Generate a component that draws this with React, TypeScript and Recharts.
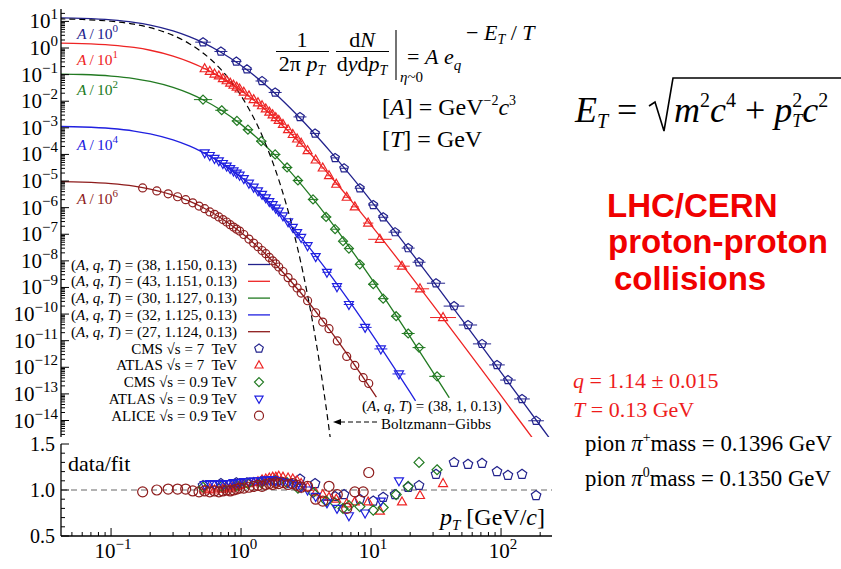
import React from "react";
import { ComposedChart, Line, Scatter, XAxis, YAxis, ReferenceLine, ErrorBar } from "recharts";

const SERIF = "'Liberation Serif', 'Times New Roman', Times, serif";
const SANS = "'Liberation Sans', Arial, Helvetica, sans-serif";

const NAVY = "#22228c";
const RED = "#ee2424";
const GREEN = "#227a22";
const BLUE = "#2020e0";
const BROWN = "#8e1c1c";

// axis ranges (log10 of pT and of the yield)
const X_DOMAIN: [number, number] = [-1.385, 2.392];
const Y_DOMAIN: [number, number] = [-14.62, 1.466];
const R_DOMAIN: [number, number] = [0.5, 1.5];
const DECADE_STEPS = [1, 2, 3, 4, 5, 6, 7, 8, 9];
const RATIO_TICKS = [0.5, 0.6, 0.7, 0.8, 0.9, 1.0, 1.1, 1.2, 1.3, 1.4, 1.5];

// ---- Tsallis fits: pT [GeV/c] and log10(yield)
const CMS7_FIT_PT = [0.04, 0.06, 0.1, 0.15, 0.2, 0.3, 0.4, 0.5, 0.7, 1, 1.5, 2, 3, 4, 5, 7, 10, 15, 20, 30, 50, 70, 100, 150, 200, 250];
const CMS7_FIT_LOGY = [1.131, 1.112, 1.056, 0.965, 0.862, 0.643, 0.427, 0.221, -0.16, -0.657, -1.337, -1.889, -2.753, -3.418, -3.958, -4.807, -5.742, -6.838, -7.631, -8.765, -10.211, -11.171, -12.193, -13.359, -14.188, -14.832];
const ATLAS7_FIT_PT = [0.04, 0.06, 0.1, 0.15, 0.2, 0.3, 0.4, 0.5, 0.7, 1, 1.5, 2, 3, 4, 5, 7, 10, 15, 20, 30, 50, 70, 100, 150, 200];
const ATLAS7_FIT_LOGY = [0.185, 0.166, 0.11, 0.02, -0.084, -0.302, -0.518, -0.724, -1.103, -1.598, -2.276, -2.825, -3.685, -4.346, -4.884, -5.728, -6.657, -7.746, -8.535, -9.661, -11.098, -12.051, -13.067, -14.225, -15.048];
const CMS09_FIT_PT = [0.04, 0.06, 0.1, 0.15, 0.2, 0.3, 0.4, 0.5, 0.7, 1, 1.5, 2, 3, 4, 5, 7, 10, 15, 20, 30, 40];
const CMS09_FIT_LOGY = [-0.977, -0.996, -1.054, -1.147, -1.254, -1.481, -1.707, -1.926, -2.332, -2.87, -3.617, -4.232, -5.207, -5.965, -6.585, -7.565, -8.651, -9.929, -10.858, -12.189, -13.144];
const ATLAS09_FIT_PT = [0.04, 0.06, 0.1, 0.15, 0.2, 0.3, 0.4, 0.5, 0.7, 1, 1.5, 2, 3, 4, 5, 7, 10, 15, 20, 22];
const ATLAS09_FIT_LOGY = [-2.949, -2.969, -3.026, -3.12, -3.227, -3.455, -3.682, -3.902, -4.311, -4.852, -5.606, -6.228, -7.212, -7.98, -8.608, -9.601, -10.703, -12.0, -12.943, -13.259];
const ALICE_FIT_PT = [0.04, 0.06, 0.1, 0.15, 0.2, 0.3, 0.4, 0.5, 0.7, 1, 1.5, 2, 3, 4, 5, 7, 10, 11];
const ALICE_FIT_LOGY = [-5.023, -5.043, -5.1, -5.194, -5.301, -5.529, -5.757, -5.977, -6.388, -6.931, -7.688, -8.313, -9.303, -10.075, -10.708, -11.708, -12.817, -13.122];
const BG_PT = [0.04, 0.06, 0.1, 0.15, 0.2, 0.3, 0.4, 0.5, 0.7, 1, 1.5, 2, 2.5, 3, 3.5, 4, 4.5, 5];
const BG_LOGY = [1.094, 1.072, 1.006, 0.895, 0.765, 0.474, 0.164, -0.154, -0.805, -1.793, -3.453, -5.118, -6.785, -8.452, -10.121, -11.79, -13.46, -15.13];

// ---- data points: pT, log10(yield), data/fit, half bin width (decades)
const CMS7_PT = [0.51, 0.7, 0.92, 1.11, 1.45, 1.83, 2.84, 3.71, 5.29, 6.2, 8.2, 10.4, 12.4, 15.3, 19.3, 23.4, 31.6, 43.5, 55.7, 71.4, 93.1, 113, 145, 186];
const CMS7_LOGY = [0.22, -0.13, -0.51, -0.8, -1.24, -1.67, -2.59, -3.21, -4.13, -4.52, -5.27, -5.9, -6.36, -6.92, -7.52, -8.05, -8.84, -9.7, -10.41, -11.12, -11.91, -12.48, -13.19, -14.01];
const CMS7_RATIO = [1.05, 1.07, 1.08, 1.08, 1.1, 1.11, 1.12, 1.07, 0.93, 0.95, 0.9, 0.88, 0.92, 0.95, 1.03, 1.05, 1.17, 1.3, 1.28, 1.29, 1.2, 1.16, 1.17, 0.94];
const CMS7_EX = [0.06, 0.05, 0.04, 0.04, 0.05, 0.05, 0.05, 0.04, 0.03, 0.03, 0.04, 0.04, 0.04, 0.05, 0.05, 0.05, 0.07, 0.08, 0.07, 0.07, 0.06, 0.06, 0.06, 0.06];

const ATLAS7_PT = [0.525, 0.575, 0.625, 0.675, 0.725, 0.775, 0.825, 0.875, 0.925, 0.975, 1.05, 1.15, 1.25, 1.35, 1.45, 1.55, 1.65, 1.75, 1.85, 1.95, 2.1, 2.3, 2.5, 2.7, 2.9, 3.25, 3.75, 4.25, 4.75, 5.4, 6.5, 7.5, 9.5, 11.7, 17.3, 23.8, 35.8];
const ATLAS7_LOGY = [-0.78, -0.88, -0.98, -1.05, -1.15, -1.23, -1.32, -1.4, -1.47, -1.54, -1.66, -1.8, -1.94, -2.06, -2.17, -2.29, -2.41, -2.51, -2.62, -2.72, -2.87, -3.07, -3.25, -3.42, -3.58, -3.86, -4.21, -4.51, -4.8, -5.12, -5.61, -5.97, -6.58, -7.19, -8.2, -9.05, -10.13];
const ATLAS7_RATIO = [1.0, 1.01, 1.0, 1.02, 1.01, 1.03, 1.02, 1.04, 1.04, 1.05, 1.06, 1.07, 1.08, 1.09, 1.11, 1.12, 1.13, 1.14, 1.14, 1.15, 1.14, 1.13, 1.12, 1.1, 1.07, 1.03, 0.97, 0.95, 0.92, 0.9, 0.85, 0.87, 0.87, 0.77, 0.87, 0.94, 1.07];
const ATLAS7_EX = [0.015, 0.015, 0.015, 0.015, 0.015, 0.015, 0.015, 0.015, 0.015, 0.015, 0.015, 0.015, 0.015, 0.015, 0.015, 0.015, 0.015, 0.015, 0.015, 0.015, 0.015, 0.015, 0.015, 0.015, 0.015, 0.015, 0.015, 0.015, 0.015, 0.03, 0.03, 0.03, 0.04, 0.09, 0.06, 0.07, 0.1];

const CMS09_PT = [0.51, 0.71, 0.93, 1.13, 1.43, 1.83, 2.26, 2.74, 3.58, 4.51, 5.29, 6.09, 6.76, 8.2, 10.4, 12.4, 15.6, 19.3, 23.4, 32.2];
const CMS09_LOGY = [-1.94, -2.34, -2.74, -3.07, -3.5, -4.0, -4.49, -4.98, -5.69, -6.35, -6.81, -7.26, -7.54, -8.13, -8.88, -9.42, -10.08, -10.73, -11.26, -12.34];
const CMS09_RATIO = [1.03, 1.04, 1.05, 1.07, 1.08, 1.1, 1.08, 1.02, 0.97, 0.88, 0.86, 0.8, 0.83, 0.82, 0.78, 0.81, 0.95, 1.04, 1.3, 1.22];
const CMS09_EX = [0.07, 0.05, 0.04, 0.04, 0.04, 0.04, 0.04, 0.04, 0.04, 0.04, 0.03, 0.03, 0.03, 0.03, 0.04, 0.04, 0.04, 0.05, 0.05, 0.06];

const ATLAS09_PT = [0.525, 0.575, 0.625, 0.675, 0.725, 0.775, 0.825, 0.875, 0.925, 0.975, 1.05, 1.15, 1.25, 1.35, 1.45, 1.55, 1.65, 1.75, 1.85, 1.95, 2.1, 2.3, 2.5, 2.7, 2.9, 3.25, 3.75, 4.58, 5.47, 6.76, 9.0, 11.9, 16.4];
const ATLAS09_LOGY = [-3.94, -4.04, -4.15, -4.24, -4.34, -4.44, -4.53, -4.62, -4.7, -4.78, -4.91, -5.08, -5.23, -5.37, -5.5, -5.63, -5.77, -5.89, -6.02, -6.13, -6.31, -6.53, -6.74, -6.94, -7.12, -7.43, -7.84, -8.43, -8.97, -9.64, -10.5, -11.31, -12.25];
const ATLAS09_RATIO = [1.06, 1.07, 1.06, 1.07, 1.06, 1.07, 1.07, 1.08, 1.08, 1.08, 1.09, 1.09, 1.1, 1.1, 1.1, 1.11, 1.11, 1.11, 1.1, 1.1, 1.09, 1.08, 1.07, 1.05, 1.03, 1.0, 0.93, 0.86, 0.8, 0.72, 0.75, 0.88, 1.1];
const ATLAS09_EX = [0.015, 0.015, 0.015, 0.015, 0.015, 0.015, 0.015, 0.015, 0.015, 0.015, 0.015, 0.015, 0.015, 0.015, 0.015, 0.015, 0.015, 0.015, 0.015, 0.015, 0.015, 0.015, 0.015, 0.015, 0.015, 0.02, 0.02, 0.035, 0.035, 0.04, 0.05, 0.05, 0.05];

const ALICE_PT = [0.175, 0.225, 0.275, 0.325, 0.375, 0.425, 0.475, 0.525, 0.575, 0.625, 0.675, 0.725, 0.775, 0.825, 0.875, 0.925, 0.975, 1.05, 1.15, 1.25, 1.35, 1.45, 1.55, 1.65, 1.75, 1.85, 1.95, 2.1, 2.3, 2.5, 2.7, 2.9, 3.25, 3.75, 4.25, 4.75, 5.5, 6.5, 7.5, 8.7, 9.6];
const ALICE_LOGY = [-5.26, -5.37, -5.48, -5.59, -5.7, -5.82, -5.94, -6.04, -6.16, -6.25, -6.35, -6.45, -6.54, -6.64, -6.73, -6.81, -6.88, -7.01, -7.18, -7.33, -7.47, -7.61, -7.73, -7.87, -8.0, -8.11, -8.23, -8.4, -8.63, -8.83, -9.02, -9.21, -9.5, -9.95, -10.3, -10.55, -11.01, -11.59, -11.93, -12.39, -12.61];
const ALICE_RATIO = [0.98, 1.0, 1.01, 1.01, 1.01, 0.99, 0.98, 0.99, 0.98, 0.99, 0.98, 0.99, 1.0, 0.99, 1.0, 1.01, 1.02, 1.02, 1.03, 1.04, 1.05, 1.04, 1.06, 1.07, 1.06, 1.08, 1.07, 1.08, 1.06, 1.07, 1.05, 1.03, 1.04, 0.9, 0.88, 1.04, 0.95, 0.8, 0.98, 0.98, 1.19];

// legend / annotation text
const FIT_PARAMS = ["(38, 1.150, 0.13)", "(43, 1.151, 0.13)", "(30, 1.127, 0.13)", "(32, 1.125, 0.13)", "(27, 1.124, 0.13)"];
const DATA_LABELS = ["CMS \u221As = 7\u00a0 TeV", "ATLAS \u221As = 7\u00a0 TeV", "CMS \u221As = 0.9 TeV", "ATLAS \u221As = 0.9 TeV", "ALICE \u221As = 0.9 TeV"];
const SCALE_EXP = ["0", "1", "2", "4", "6"];

const toPts = (pt: number[], v: number[], ex?: number[]) =>
  pt.map((p, i) => ({ x: Math.log10(p), y: v[i], ex: ex ? ex[i] : 0 }));

const SERIES = [
  { color: NAVY, shape: "pentagon", fit: toPts(CMS7_FIT_PT, CMS7_FIT_LOGY), pts: toPts(CMS7_PT, CMS7_LOGY, CMS7_EX), ratio: toPts(CMS7_PT, CMS7_RATIO) },
  { color: RED, shape: "up", fit: toPts(ATLAS7_FIT_PT, ATLAS7_FIT_LOGY), pts: toPts(ATLAS7_PT, ATLAS7_LOGY, ATLAS7_EX), ratio: toPts(ATLAS7_PT, ATLAS7_RATIO) },
  { color: GREEN, shape: "diamond", fit: toPts(CMS09_FIT_PT, CMS09_FIT_LOGY), pts: toPts(CMS09_PT, CMS09_LOGY, CMS09_EX), ratio: toPts(CMS09_PT, CMS09_RATIO) },
  { color: BLUE, shape: "down", fit: toPts(ATLAS09_FIT_PT, ATLAS09_FIT_LOGY), pts: toPts(ATLAS09_PT, ATLAS09_LOGY, ATLAS09_EX), ratio: toPts(ATLAS09_PT, ATLAS09_RATIO) },
  { color: BROWN, shape: "circle", fit: toPts(ALICE_FIT_PT, ALICE_FIT_LOGY), pts: toPts(ALICE_PT, ALICE_LOGY), ratio: toPts(ALICE_PT, ALICE_RATIO) },
];
const BG_CURVE = toPts(BG_PT, BG_LOGY);

function logTicks([lo, hi]: [number, number]) {
  const out: number[] = [];
  for (let n = Math.floor(lo); n <= Math.ceil(hi); n++) {
    for (const k of DECADE_STEPS) {
      const v = n + Math.log10(k);
      if (v >= lo && v <= hi) out.push(v);
    }
  }
  return out;
}
const X_TICKS = logTicks(X_DOMAIN);
const Y_TICKS = logTicks(Y_DOMAIN);

function Marker({ cx, cy, kind, color, r }: any) {
  if (cx == null || cy == null) return null;
  const st = { fill: "none", stroke: color, strokeWidth: 1.2 };
  if (kind === "circle") return <circle cx={cx} cy={cy} r={r} {...st} />;
  let pts = "";
  if (kind === "pentagon") {
    pts = [0, 1, 2, 3, 4]
      .map((k) => {
        const a = -Math.PI / 2 + (k * 2 * Math.PI) / 5;
        return `${cx + r * Math.cos(a)},${cy + r * Math.sin(a)}`;
      })
      .join(" ");
  } else if (kind === "up") {
    pts = `${cx},${cy - r} ${cx + 0.9 * r},${cy + 0.6 * r} ${cx - 0.9 * r},${cy + 0.6 * r}`;
  } else if (kind === "down") {
    pts = `${cx},${cy + r} ${cx + 0.9 * r},${cy - 0.6 * r} ${cx - 0.9 * r},${cy - 0.6 * r}`;
  } else {
    pts = `${cx},${cy - r} ${cx + r},${cy} ${cx},${cy + r} ${cx - r},${cy}`;
  }
  return <polygon points={pts} {...st} />;
}

function AxisTick(props: any) {
  const { x, y, payload, side, kind, label } = props;
  const v: number = payload.value;
  const major =
    kind === "ratio" ? Math.abs(v * 2 - Math.round(v * 2)) < 1e-6 : Math.abs(v - Math.round(v)) < 1e-6;
  const len = major ? 8 : 4;
  let x2 = x;
  let y2 = y;
  if (side === "left") x2 = x + len;
  else if (side === "right") x2 = x - len;
  else if (side === "top") y2 = y + len;
  else y2 = y - len;
  let text = null;
  if (label && major) {
    if (kind === "ratio") {
      text = (
        <text x={x - 6} y={y + 7} textAnchor="end" fontSize={20} fontFamily={SERIF} fill="#000">
          {v.toFixed(1)}
        </text>
      );
    } else {
      const e = Math.round(v);
      const exp = e < 0 ? `\u2212${-e}` : `${e}`;
      text =
        side === "left" ? (
          <text x={x - 3} y={y + 7} textAnchor="end" fontSize={21} fontFamily={SERIF} fill="#000">
            10<tspan dy={-9} fontSize={15}>{exp}</tspan>
          </text>
        ) : (
          <text x={x + 2} y={y + 22} textAnchor="middle" fontSize={21} fontFamily={SERIF} fill="#000">
            10<tspan dy={-9} fontSize={15}>{exp}</tspan>
          </text>
        );
    }
  }
  return (
    <g>
      <line x1={x} y1={y} x2={x2} y2={y2} stroke="#000" strokeWidth={1} />
      {text}
    </g>
  );
}

const AXIS_LINE = { stroke: "#000", strokeWidth: 1.3 };

function frameAxes(yDomain: [number, number], yTicks: number[], yKind: string, bottomHeight: number) {
  return [
    <XAxis key="xb" type="number" dataKey="x" domain={X_DOMAIN} allowDataOverflow ticks={X_TICKS} interval={0}
      height={bottomHeight} tickSize={0} tickMargin={0} tickLine={false} axisLine={AXIS_LINE}
      tick={(p: any) => <AxisTick {...p} side="bottom" kind="log" label={bottomHeight > 0} />} />,
    <XAxis key="xt" xAxisId="top" orientation="top" type="number" domain={X_DOMAIN} allowDataOverflow ticks={X_TICKS}
      interval={0} height={0} tickSize={0} tickMargin={0} tickLine={false} axisLine={AXIS_LINE}
      tick={(p: any) => <AxisTick {...p} side="top" kind="log" />} />,
    <YAxis key="yl" type="number" dataKey="y" domain={yDomain} allowDataOverflow ticks={yTicks} interval={0}
      width={61} tickSize={0} tickMargin={0} tickLine={false} axisLine={AXIS_LINE}
      tick={(p: any) => <AxisTick {...p} side="left" kind={yKind} label />} />,
    <YAxis key="yr" yAxisId="right" orientation="right" type="number" domain={yDomain} allowDataOverflow ticks={yTicks}
      interval={0} width={0} tickSize={0} tickMargin={0} tickLine={false} axisLine={AXIS_LINE}
      tick={(p: any) => <AxisTick {...p} side="right" kind={yKind} />} />,
  ];
}

const MAIN_R: Record<string, number> = { pentagon: 4.5, up: 5, down: 5, diamond: 4.5, circle: 4 };

export default function App() {
  return (
    <div style={{ position: "absolute", left: 0, top: 0, width: 841, height: 569, background: "#fff", overflow: "hidden" }}>
      <div style={{ position: "absolute", left: 0, top: 0 }}>
        <ComposedChart width={560} height={440} margin={{ top: 9, right: 8, bottom: 3, left: 0 }}>
          {frameAxes(Y_DOMAIN, Y_TICKS, "log", 0)}
          {SERIES.map((s, i) => (
            <Line key={`fit-${i}`} data={s.fit} dataKey="y" type="monotone" stroke={s.color} strokeWidth={1.3}
              dot={false} isAnimationActive={false} />
          ))}
          <Line data={BG_CURVE} dataKey="y" type="monotone" stroke="#000" strokeWidth={1.2} strokeDasharray="6 4"
            dot={false} isAnimationActive={false} />
          {SERIES.map((s, i) => (
            <Scatter key={`pts-${i}`} data={s.pts} isAnimationActive={false}
              shape={(p: any) => <Marker cx={p.cx} cy={p.cy} kind={s.shape} color={s.color} r={MAIN_R[s.shape]} />}>
              <ErrorBar dataKey="ex" direction="x" width={0} stroke={s.color} strokeWidth={1} />
            </Scatter>
          ))}
        </ComposedChart>
      </div>

      <div style={{ position: "absolute", left: 0, top: 430 }}>
        <ComposedChart width={560} height={139} margin={{ top: 14, right: 8, bottom: 8, left: 0 }}>
          {frameAxes(R_DOMAIN, RATIO_TICKS, "ratio", 25)}
          <ReferenceLine y={1} stroke="#666" strokeDasharray="6 4" strokeWidth={1.2} />
          {SERIES.map((s, i) => (
            <Scatter key={`r-${i}`} data={s.ratio} isAnimationActive={false}
              shape={(p: any) => <Marker cx={p.cx} cy={p.cy} kind={s.shape} color={s.color} r={5} />} />
          ))}
        </ComposedChart>
      </div>

      <svg width={841} height={569} style={{ position: "absolute", left: 0, top: 0, pointerEvents: "none" }} fontFamily={SERIF}>
        {/* A / 10^k labels */}
        {[39, 65, 95, 150, 204].map((by, i) => (
          <text key={`sc-${i}`} x={77} y={by} fontSize={15.5} fill={SERIES[i].color}>
            <tspan fontStyle="italic">A</tspan>{"\u2009/\u2009"}10<tspan dy={-7} fontSize={11}>{SCALE_EXP[i]}</tspan>
          </text>
        ))}

        {/* formula */}
        <text x={302} y={47} textAnchor="middle" fontSize={22}>1</text>
        <line x1={276} x2={329} y1={51.5} y2={51.5} stroke="#000" strokeWidth={1.1} />
        <text x={302} y={71} textAnchor="middle" fontSize={22}>
          2π <tspan fontStyle="italic">p</tspan><tspan fontStyle="italic" fontSize={14} dy={4}>T</tspan>
        </text>
        <text x={362} y={47} textAnchor="middle" fontSize={22}>
          d<tspan fontStyle="italic">N</tspan>
        </text>
        <line x1={336} x2={389} y1={51.5} y2={51.5} stroke="#000" strokeWidth={1.1} />
        <text x={362} y={71} textAnchor="middle" fontSize={22}>
          d<tspan fontStyle="italic">y</tspan>d<tspan fontStyle="italic">p</tspan><tspan fontStyle="italic" fontSize={14} dy={4}>T</tspan>
        </text>
        <line x1={396} x2={396} y1={30} y2={80} stroke="#000" strokeWidth={1.1} />
        <text x={400} y={82} fontSize={15}>
          <tspan fontStyle="italic">η</tspan>~0
        </text>
        <text x={407} y={64} fontSize={22}>
          = <tspan fontStyle="italic">A</tspan> <tspan fontStyle="italic">e</tspan><tspan fontStyle="italic" fontSize={15} dy={6}>q</tspan>
        </text>
        <text x={466} y={40} fontSize={22}>
          − <tspan fontStyle="italic">E</tspan><tspan fontStyle="italic" fontSize={14} dy={4}>T</tspan><tspan dy={-4}> / </tspan><tspan fontStyle="italic">T</tspan>
        </text>
        <text x={382} y={115} fontSize={24}>
          [<tspan fontStyle="italic">A</tspan>] = GeV<tspan fontSize={14} dy={-10}>−2</tspan><tspan fontStyle="italic" dy={10}>c</tspan><tspan fontSize={14} dy={-10}>3</tspan>
        </text>
        <text x={382} y={147} fontSize={24}>
          [<tspan fontStyle="italic">T</tspan>] = GeV
        </text>

        {/* legend */}
        {FIT_PARAMS.map((t, i) => {
          const cy = 264.5 + i * 16.8;
          return (
            <g key={`lf-${i}`}>
              <text x={237} y={cy + 5} textAnchor="end" fontSize={15}>
                (<tspan fontStyle="italic">A</tspan>, <tspan fontStyle="italic">q</tspan>, <tspan fontStyle="italic">T</tspan>) = {t}
              </text>
              <line x1={248} x2={270} y1={cy} y2={cy} stroke={SERIES[i].color} strokeWidth={1.3} />
            </g>
          );
        })}
        {DATA_LABELS.map((t, i) => {
          const cy = 348.5 + i * 16.8;
          return (
            <g key={`ld-${i}`}>
              <text x={237} y={cy + 5} textAnchor="end" fontSize={15}>{t}</text>
              <Marker cx={259} cy={cy} kind={SERIES[i].shape} color={SERIES[i].color} r={4.5} />
            </g>
          );
        })}

        {/* Boltzmann-Gibbs note */}
        <text x={362} y={411} fontSize={15}>
          (<tspan fontStyle="italic">A</tspan>, <tspan fontStyle="italic">q</tspan>, <tspan fontStyle="italic">T</tspan>) = (38, 1, 0.13)
        </text>
        <text x={381} y={429} fontSize={15}>Boltzmann−Gibbs</text>
        <line x1={377} x2={339} y1={422} y2={422} stroke="#000" strokeWidth={1} strokeDasharray="5 3" />
        <polygon points="333,422 341,419 341,425" fill="#000" />

        {/* ratio panel labels */}
        <text x={68} y={471} fontSize={22}>data/fit</text>
        <text x={440} y={525} fontSize={24}>
          <tspan fontStyle="italic">p</tspan><tspan fontStyle="italic" fontSize={15} dy={5}>T</tspan><tspan dy={-5}> [GeV/</tspan><tspan fontStyle="italic">c</tspan>]
        </text>

        {/* right-hand side notes */}
        <text x={575} y={122} fontSize={36} fontStyle="italic">
          E<tspan fontSize={20} dy={6}>T</tspan>
        </text>
        <text x={617} y={122} fontSize={36}>=</text>
        <path d="M649,106 L655,102 L664,131 L673,78 L841,78" stroke="#000" strokeWidth={1.6} fill="none" />
        <text x={674} y={122} fontSize={36} fontStyle="italic">
          m<tspan dy={-15} fontSize={20} fontStyle="normal">2</tspan><tspan dy={15}>c</tspan><tspan dy={-15} fontSize={20} fontStyle="normal">4</tspan><tspan dy={15} fontStyle="normal"> + </tspan>p<tspan dy={-15} fontSize={20} fontStyle="normal">2</tspan><tspan dx={-10} dy={20} fontSize={18}>T</tspan><tspan dy={-5}>c</tspan><tspan dy={-15} fontSize={20} fontStyle="normal">2</tspan>
        </text>

        <g fontFamily={SANS} fontWeight="bold" fontSize={33} fill="#f00000">
          <text x={607} y={217}>LHC/CERN</text>
          <text x={608} y={253}>proton-proton</text>
          <text x={614} y={290}>collisions</text>
        </g>

        <g fontSize={22}>
          <text x={573} y={388} fill="#ee1c1c">
            <tspan fontStyle="italic">q</tspan> = 1.14 ± 0.015
          </text>
          <text x={573} y={417} fill="#ee1c1c">
            <tspan fontStyle="italic">T</tspan> = 0.13 GeV
          </text>
        </g>
        <g fontSize={22.8}>
          <text x={585} y={451}>
            pion <tspan fontStyle="italic">π</tspan><tspan dy={-9} fontSize={14}>+</tspan><tspan dy={9}>mass = 0.1396 GeV</tspan>
          </text>
          <text x={585} y={486}>
            pion <tspan fontStyle="italic">π</tspan><tspan dy={-9} fontSize={14}>0</tspan><tspan dy={9}>mass = 0.1350 GeV</tspan>
          </text>
        </g>
      </svg>
    </div>
  );
}
